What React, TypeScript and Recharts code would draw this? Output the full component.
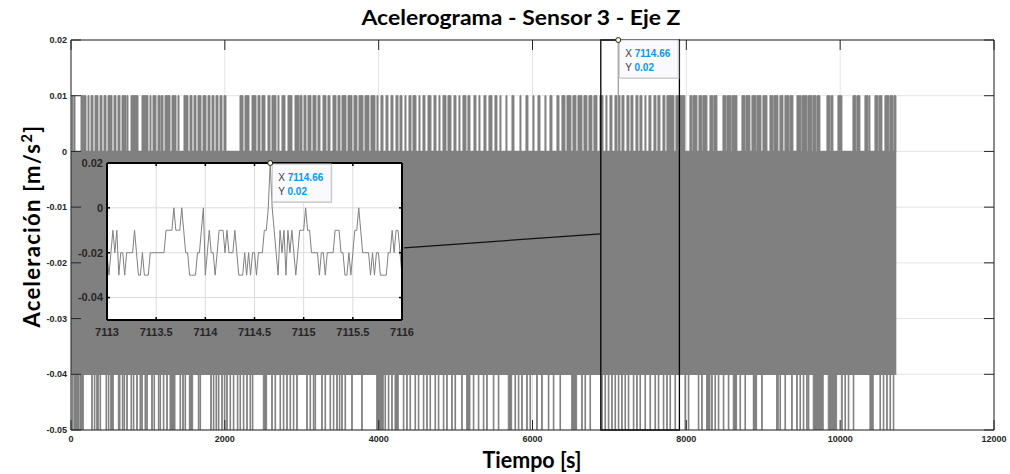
import React from 'react';
import {
  ComposedChart,
  LineChart,
  Line,
  Area,
  XAxis,
  YAxis,
  CartesianGrid,
  ReferenceArea,
  ReferenceDot,
  ReferenceLine,
} from 'recharts';

// ---------- text ----------
const TITLE = 'Acelerograma - Sensor 3 - Eje Z';
const X_LABEL = 'Tiempo [s]';
const Y_LABEL = 'Aceleración [m/s';

// ---------- main axes ----------
const xTicks = [0, 2000, 4000, 6000, 8000, 10000, 12000];
const yTicks = [0.02, 0.01, 0, -0.01, -0.02, -0.03, -0.04, -0.05];
const xDomain = [0, 12000];
const yDomain = [-0.05, 0.02];

// ---------- main signal (dense record) ----------
const recordSpan = [0, 10730]; // seconds covered by the record
const bandLevels = [-0.04, 0]; // signal continuously between these levels
const upperLevel = 0.01; // positive excursions
const lowerLevel = -0.05; // negative excursions

// time intervals [s] where the signal reaches +0.01
const topBursts: [number, number][] = [
  [13, 26], [39, 52], [130, 195], [221, 234], [260, 286], [312, 351], [377, 403], [429, 455],
  [481, 533], [559, 585], [611, 637], [663, 715], [728, 741], [780, 871], [923, 1001], [1027, 1040],
  [1066, 1105], [1131, 1157], [1170, 1196], [1222, 1287], [1313, 1365], [1391, 1404], [1469, 1521],
  [1547, 1573], [1599, 1625], [1651, 1690], [1716, 1755], [1781, 1807], [1833, 1859], [1885, 1911],
  [1937, 1963], [1989, 2015], [2197, 2236], [2262, 2314], [2353, 2405], [2431, 2457], [2483, 2522],
  [2561, 2587], [2613, 2665], [2691, 2704], [2743, 2782], [2821, 2873], [2912, 2964], [2977, 3003],
  [3029, 3055], [3081, 3120], [3146, 3185], [3211, 3237], [3276, 3315], [3341, 3367], [3406, 3445],
  [3471, 3497], [3523, 3575], [3601, 3653], [3679, 3718], [3744, 3796], [3822, 3874], [3900, 3952],
  [3978, 3991], [4030, 4056], [4095, 4121], [4160, 4186], [4225, 4251], [4277, 4303], [4342, 4355],
  [4394, 4420], [4446, 4485], [4524, 4537], [4576, 4602], [4641, 4680], [4719, 4745], [4784, 4797],
  [4836, 4875], [4901, 4940], [4979, 5005], [5044, 5057], [5096, 5135], [5161, 5187], [5239, 5265],
  [5304, 5317], [5369, 5395], [5434, 5473], [5512, 5538], [5577, 5590], [5655, 5668], [5733, 5759],
  [5837, 5850], [5915, 5941], [6006, 6019], [6071, 6097], [6162, 6175], [6227, 6253], [6318, 6344],
  [6383, 6422], [6448, 6500], [6526, 6565], [6591, 6643], [6669, 6708], [6734, 6773], [6799, 6838],
  [6877, 6916], [6955, 6968], [7007, 7033], [7072, 7098], [7124, 7137], [7163, 7189], [7228, 7254],
  [7280, 7306], [7345, 7371], [7397, 7423], [7462, 7475], [7514, 7540], [7579, 7605], [7631, 7657],
  [7696, 7722], [7748, 7839], [7865, 7904], [7917, 7982], [8047, 8073], [8086, 8138], [8164, 8203],
  [8216, 8268], [8307, 8346], [8359, 8398], [8476, 8515], [8528, 8580], [8593, 8658], [8723, 8762],
  [8775, 8827], [8853, 8905], [8918, 8970], [8996, 9048], [9087, 9126], [9139, 9191], [9217, 9256],
  [9282, 9334], [9347, 9386], [9438, 9490], [9503, 9568], [9581, 9633], [9646, 9685], [9698, 9737],
  [9828, 9867], [9880, 9906], [9971, 10023], [10166, 10205], [10218, 10257], [10322, 10361],
  [10374, 10387], [10452, 10491], [10504, 10543], [10582, 10634], [10647, 10686], [10699, 10725],
];

// times [s] (single spikes) or intervals where the signal reaches -0.05
const bottomBursts: (number | [number, number])[] = [
  17, [39, 104], [117, 160], 269, 303, [334, 355], 377, 455, 485, [516, 550], [615, 637], 667, 689,
  724, 780, 810, 854, 897, 919, 962, 984, 1049, 1079, 1135, 1157, 1200, 1244, [1287, 1352], 1417,
  1452, 1482, [1538, 1582], 1655, 1677, 1816, 1850, 1885, 1915, 1959, 1993, 2024, 2067, 2110, 2162,
  2197, 2240, 2284, 2327, 2357, [2500, 2544], 2609, 2652, 2717, 2760, 2804, 2847, 2890, 2934, 3064,
  3107, 3150, 3172, 3259, 3302, 3367, 3410, 3454, 3488, 3519, 3562, 3649, 3779, [3974, 4060], 4082,
  4125, 4169, [4212, 4255], 4320, 4364, 4407, 4472, 4515, 4580, 4624, 4667, 4732, 4775, 4840, 4884,
  4949, 4992, 5079, [5144, 5187], 5230, 5295, 5360, 5404, 5490, 5555, [5685, 5729], 5772, 5815,
  5859, 5924, 5967, 6054, 6119, 6205, 6270, 6357, [6509, 6574], 6639, 6682, 6747, 6899, 6942, 6985,
  7029, 7072, 7115, 7159, 7202, 7245, 7310, 7354, 7397, 7462, 7527, 7592, 7635, 7700, 7744, 7787,
  7852, 7982, 8025, 8155, 8199, [8264, 8307], 8329, 8372, 8415, 8480, 8545, [8610, 8654], 8697,
  8762, [8870, 8914], 8979, [9174, 9195], 9217, 9282, 9369, 9434, 9477, 9520, 9564, 9585,
  [9650, 9780], [9845, 9954], 10019, 10062, 10105, 10170, [10387, 10430], 10517, 10560, 10604,
  10647, 10690,
];

// maximum of the record (data tip)
const peakTime = 7114.66;
const peakValue = 0.02;

// zoom window drawn on the main plot and its connector to the inset
const zoomWindow = [6888, 7910];
const connectorFrom = { x: 4330, y: -0.0173 };
const connectorTo = { x: 6888, y: -0.0148 };

// ---------- inset ----------
const insetXTicks = [7113, 7113.5, 7114, 7114.5, 7115, 7115.5, 7116];
const insetYTicks = [0.02, 0, -0.02, -0.04];
const insetXDomain = [7113, 7116];
const insetYDomain = [-0.05, 0.02];
const insetStart = 7113;
const insetStep = 0.02;
const insetValues = [
  -0.02, -0.03, -0.02, -0.01, -0.02, -0.01, -0.03, -0.02, -0.02, -0.03,
  -0.02, -0.02, -0.02, -0.02, -0.01, -0.02, -0.03, -0.03, -0.02, -0.03,
  -0.03, -0.03, -0.02, -0.02, -0.02, -0.02, -0.02, -0.02, -0.02, -0.02,
  -0.01, -0.01, -0.01, -0.01, 0, -0.01, -0.01, -0.01, 0, -0.01,
  -0.02, -0.02, -0.03, -0.03, -0.03, -0.03, -0.02, -0.02, -0.01, 0,
  -0.03, -0.02, -0.01, -0.02, -0.02, -0.03, -0.02, -0.01, -0.01, -0.01,
  -0.02, -0.01, -0.02, -0.02, -0.02, -0.01, -0.02, -0.03, -0.03, -0.03,
  -0.02, -0.03, -0.02, -0.03, -0.02, -0.02, -0.03, -0.02, -0.02, -0.02,
  -0.01, -0.01, 0, 0.02, 0, -0.01, -0.02, -0.03, -0.01, -0.02,
  -0.01, -0.03, -0.01, -0.02, -0.01, -0.02, -0.03, -0.02, -0.01, -0.01,
  -0.01, 0, -0.01, -0.01, -0.02, -0.02, -0.02, -0.02, -0.03, -0.02,
  -0.02, -0.03, -0.02, -0.02, -0.02, -0.02, -0.01, -0.01, -0.01, -0.02,
  -0.02, -0.03, -0.03, -0.02, -0.03, -0.02, -0.01, -0.01, 0, -0.01,
  -0.02, -0.02, -0.02, -0.02, -0.03, -0.02, -0.03, -0.02, -0.02, -0.03,
  -0.03, -0.03, -0.03, -0.02, -0.02, -0.01, -0.02, -0.01, -0.01, -0.02,
  -0.03,
];

// ---------- derived tables ----------
const SPIKE_W = 8; // drawn width (s) of a single spike
const toRows = (bursts: (number | [number, number])[], base: number, level: number) => {
  const rows: { x: number; r: [number, number] }[] = [];
  bursts.forEach((b) => {
    const [a, e] = typeof b === 'number' ? [b, b + SPIKE_W] : b;
    const lo = Math.min(base, level);
    const hi = Math.max(base, level);
    rows.push({ x: a, r: [base, base] });
    rows.push({ x: a, r: [lo, hi] });
    rows.push({ x: e, r: [lo, hi] });
    rows.push({ x: e, r: [base, base] });
  });
  return rows;
};
const topRows = toRows(topBursts, 0, upperLevel);
const bottomRows = toRows(bottomBursts, -0.04, lowerLevel);
const bandRows = recordSpan.map((x) => ({ x, r: [bandLevels[0], bandLevels[1]] }));
const peakRows = [
  { x: peakTime, y: 0 },
  { x: peakTime, y: peakValue },
];
const insetRows = insetValues.map((v, i) => ({
  x: Math.round((insetStart + i * insetStep) * 100) / 100,
  v,
}));

const GRAY = '#808080';
const AX = '#262626';
const TICK_FONT = "'Liberation Sans', Arial, sans-serif";
const LABEL_FONT = "Lato, 'Open Sans', sans-serif";

const fmt = (v: number) => (v === 0 ? '0' : String(Math.round(v * 1000) / 1000));
const blank = () => '';

const DataTip = ({ cx, cy, boxDx, boxDy }: { cx: number; cy: number; boxDx: number; boxDy: number }) => (
  <g>
    <rect x={cx + boxDx + 1} y={cy + boxDy + 1} width={59} height={38} fill="#d8d8d8" />
    <rect x={cx + boxDx} y={cy + boxDy} width={59} height={38} fill="#fafafe" stroke="#c2c2c2" strokeWidth={1} />
    <text x={cx + boxDx + 6} y={cy + boxDy + 17} fontSize={10} fontFamily={TICK_FONT} fill="#3a3a3a">
      X <tspan fill="#0a96f5" fontWeight={700}>{String(peakTime)}</tspan>
    </text>
    <text x={cx + boxDx + 6} y={cy + boxDy + 31} fontSize={10} fontFamily={TICK_FONT} fill="#3a3a3a">
      Y <tspan fill="#0a96f5" fontWeight={700}>{String(peakValue)}</tspan>
    </text>
    <circle cx={cx} cy={cy} r={2.5} fill="#fdfde0" stroke="#222" strokeWidth={1} />
  </g>
);

export default function App() {
  const tickStyle = { fill: AX, fontSize: 9, fontWeight: 700, fontFamily: TICK_FONT };
  const insetTick = { fill: AX, fontSize: 11, fontWeight: 700, fontFamily: TICK_FONT };
  return (
    <div style={{ position: 'absolute', left: 0, top: 0, width: 1010, height: 474, background: '#fff' }}>
      <div style={{ position: 'absolute', left: 0, top: 0 }}>
        <ComposedChart width={1010} height={474} margin={{ top: 39, right: 15, bottom: 0, left: 0 }}>
          <CartesianGrid stroke="#e4e4e4" strokeWidth={1} fill="#fff" />
          <XAxis
            dataKey="x"
            type="number"
            domain={xDomain}
            ticks={xTicks}
            allowDataOverflow
            height={44}
            tickSize={-10}
            tickMargin={16}
            tick={tickStyle}
            axisLine={{ stroke: AX }}
            tickLine={{ stroke: AX }}
            tickFormatter={fmt}
            interval={0}
          />
          <XAxis
            xAxisId="top"
            orientation="top"
            dataKey="x"
            type="number"
            domain={xDomain}
            ticks={xTicks}
            allowDataOverflow
            height={1}
            tickSize={-10}
            tickFormatter={blank}
            axisLine={{ stroke: AX }}
            tickLine={{ stroke: AX }}
            interval={0}
          />
          <YAxis
            type="number"
            domain={yDomain}
            ticks={yTicks}
            allowDataOverflow
            width={71}
            tickSize={-10}
            tickMargin={14}
            tick={tickStyle}
            axisLine={{ stroke: AX }}
            tickLine={{ stroke: AX }}
            tickFormatter={fmt}
            interval={0}
          />
          <YAxis
            yAxisId="right"
            orientation="right"
            type="number"
            domain={yDomain}
            ticks={yTicks}
            allowDataOverflow
            width={1}
            tickSize={-10}
            tickFormatter={blank}
            axisLine={{ stroke: AX }}
            tickLine={{ stroke: AX }}
            interval={0}
          />
          <Area data={bandRows} dataKey="r" type="linear" fill={GRAY} fillOpacity={1} stroke={GRAY} strokeWidth={1} isAnimationActive={false} dot={false} activeDot={false} />
          <Area data={topRows} dataKey="r" type="linear" fill={GRAY} fillOpacity={1} stroke={GRAY} strokeWidth={1} isAnimationActive={false} dot={false} activeDot={false} />
          <Area data={bottomRows} dataKey="r" type="linear" fill={GRAY} fillOpacity={1} stroke={GRAY} strokeWidth={1} isAnimationActive={false} dot={false} activeDot={false} />
          <Line data={peakRows} dataKey="y" type="linear" stroke={GRAY} strokeWidth={1} dot={false} activeDot={false} isAnimationActive={false} />
          <ReferenceArea x1={zoomWindow[0]} x2={zoomWindow[1]} y1={yDomain[0]} y2={yDomain[1]} fill="none" stroke="#000" strokeWidth={1.3} ifOverflow="visible" />
          <ReferenceLine segment={[connectorFrom, connectorTo]} stroke="#111" strokeWidth={1.3} ifOverflow="visible" />
          <ReferenceDot
            x={peakTime}
            y={peakValue}
            r={3}
            ifOverflow="visible"
            shape={(p: any) => <DataTip cx={p.cx} cy={p.cy} boxDx={1} boxDy={0} />}
          />
        </ComposedChart>
      </div>

      <div style={{ position: 'absolute', left: 0, top: 0, pointerEvents: 'none' }}>
        <LineChart width={420} height={345} margin={{ top: 162, right: 17, bottom: 0, left: 0 }}>
          <CartesianGrid stroke="#dcdcdc" strokeWidth={1} fill="#fff" />
          <XAxis
            dataKey="x"
            type="number"
            domain={insetXDomain}
            ticks={insetXTicks}
            allowDataOverflow
            height={25}
            tickSize={-3}
            tickMargin={11}
            tick={insetTick}
            axisLine={{ stroke: '#000', strokeWidth: 2 }}
            tickLine={{ stroke: '#000', strokeWidth: 1.5 }}
            interval={0}
          />
          <XAxis
            xAxisId="top"
            orientation="top"
            dataKey="x"
            type="number"
            domain={insetXDomain}
            ticks={insetXTicks}
            allowDataOverflow
            height={1}
            tickSize={-3}
            tickFormatter={blank}
            axisLine={{ stroke: '#000', strokeWidth: 2 }}
            tickLine={{ stroke: '#000', strokeWidth: 1.5 }}
            interval={0}
          />
          <YAxis
            type="number"
            domain={insetYDomain}
            ticks={insetYTicks}
            allowDataOverflow
            width={107}
            tickSize={-3}
            tickMargin={7}
            tick={insetTick}
            tickFormatter={fmt}
            axisLine={{ stroke: '#000', strokeWidth: 2 }}
            tickLine={{ stroke: '#000', strokeWidth: 1.5 }}
            interval={0}
          />
          <YAxis
            yAxisId="right"
            orientation="right"
            type="number"
            domain={insetYDomain}
            ticks={insetYTicks}
            allowDataOverflow
            width={1}
            tickSize={-3}
            tickFormatter={blank}
            axisLine={{ stroke: '#000', strokeWidth: 2 }}
            tickLine={{ stroke: '#000', strokeWidth: 1.5 }}
            interval={0}
          />
          <Line data={insetRows} dataKey="v" type="linear" stroke={GRAY} strokeWidth={1} dot={false} activeDot={false} isAnimationActive={false} />
          <ReferenceDot
            x={peakTime}
            y={peakValue}
            r={3}
            ifOverflow="visible"
            shape={(p: any) => <DataTip cx={p.cx} cy={p.cy} boxDx={2} boxDy={1} />}
          />
        </LineChart>
      </div>

      <svg width={1010} height={474} style={{ position: 'absolute', left: 0, top: 0, pointerEvents: 'none' }}>
        <text x={521} y={25} textAnchor="middle" fontFamily={LABEL_FONT} fontWeight={700} fontSize={21} fill="#000" textLength={319} lengthAdjust="spacingAndGlyphs">
          {TITLE}
        </text>
        <text x={532} y={468} textAnchor="middle" fontFamily={LABEL_FONT} fontWeight={700} fontSize={22} fill="#000" textLength={99} lengthAdjust="spacingAndGlyphs">
          {X_LABEL}
        </text>
        <text transform="translate(40,226) rotate(-90)" textAnchor="middle" fontFamily={LABEL_FONT} fontWeight={700} fontSize={22} letterSpacing={1.3} fill="#000">
          {Y_LABEL}
          <tspan dy={-8} fontSize={15}>2</tspan>
          <tspan dy={8}>]</tspan>
        </text>
      </svg>
    </div>
  );
}
